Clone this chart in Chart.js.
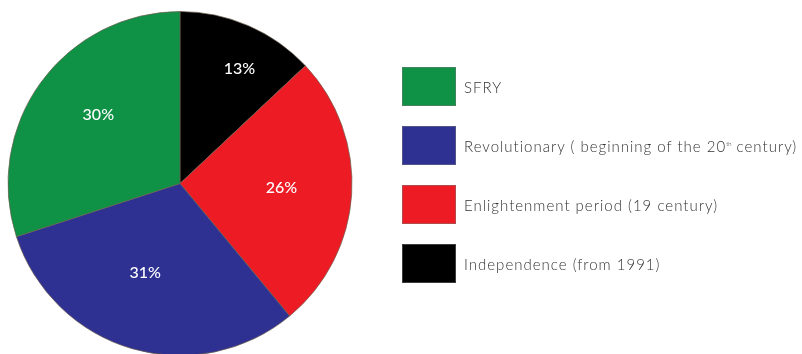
<!DOCTYPE html>
<html>
<head>
<meta charset="utf-8">
<script src="https://cdn.jsdelivr.net/npm/chart.js@4.4.1/dist/chart.umd.min.js"></script>
<style>
  html, body { margin: 0; padding: 0; background: #fff; overflow: hidden; }
  #wrap { position: relative; width: 802px; height: 354px; }
  #periods-chart { position: absolute; left: 0; top: 0; }
  #legend { position: absolute; left: 402px; top: 67px; font-family: "Lato", sans-serif; font-weight: 300; font-size: 15px; letter-spacing: 1px; color: #333; }
  #legend .item { display: flex; align-items: center; height: 39px; margin-bottom: 20px; white-space: nowrap; }
  #legend .box { width: 54px; height: 39px; margin-right: 8px; box-sizing: border-box; border: 1px solid rgba(120,120,120,0.5); }
  #legend sup { font-size: 6px; letter-spacing: 0; }
</style>
</head>
<body>
<div id="wrap">
  <canvas id="periods-chart" width="802" height="354"></canvas>
  <div id="legend"></div>
</div>
<script>
// Slices clockwise from 12 o'clock
const periods = ["Independence (from 1991)", "Enlightenment period (19 century)", "Revolutionary ( beginning of the 20th century)", "SFRY"];
const shares = [13, 26, 31, 30];
const colors = ["#000000", "#ed1c24", "#2e3192", "#0f9146"];

// where each percent label sits: fraction of radius, and a small turn (degrees) off the slice middle
const labelRadius = [0.75, 0.59, 0.56, 0.62];
const labelTurn = [4, -1, 5, 4];

const percentLabels = {
    id: "percentLabels",
    afterDatasetsDraw(chart) {
        const ctx = chart.ctx;
        const meta = chart.getDatasetMeta(0);
        ctx.save();
        ctx.fillStyle = "#fff";
        ctx.font = "500 16px Lato, sans-serif";
        ctx.textAlign = "center";
        ctx.textBaseline = "middle";
        meta.data.forEach((arc, i) => {
            const p = arc.getProps(["x", "y", "startAngle", "endAngle", "outerRadius"]);
            const mid = (p.startAngle + p.endAngle) / 2 + labelTurn[i] * Math.PI / 180;
            const r = p.outerRadius * labelRadius[i];
            ctx.fillText(shares[i] + "%", p.x + Math.cos(mid) * r, p.y + Math.sin(mid) * r);
        });
        ctx.restore();
    }
};

const ctx = document.getElementById("periods-chart").getContext("2d");
const periodsChart = new Chart(ctx, {
    type: "pie",
    data: {
        labels: periods,
        datasets: [{
            data: shares,
            backgroundColor: colors,
            borderColor: "rgba(110,95,80,0.7)",
            borderWidth: 1,
            radius: 172,
        }],
    },
    options: {
        responsive: false,
        animation: false,
        layout: { padding: { left: 8, top: 13, right: 450, bottom: 0 } },
        plugins: {
            legend: { display: false },
            tooltip: { enabled: false },
        },
    },
    plugins: [percentLabels],
});

// legend on the right, listed bottom slice first
const legend = document.getElementById("legend");
[3, 2, 1, 0].forEach(i => {
    const item = document.createElement("div");
    item.className = "item";
    const box = document.createElement("span");
    box.className = "box";
    box.style.background = colors[i];
    const text = document.createElement("span");
    text.innerHTML = periods[i].replace("20th", "20<sup>th</sup>");
    item.appendChild(box);
    item.appendChild(text);
    legend.appendChild(item);
});
</script>
</body>
</html>
